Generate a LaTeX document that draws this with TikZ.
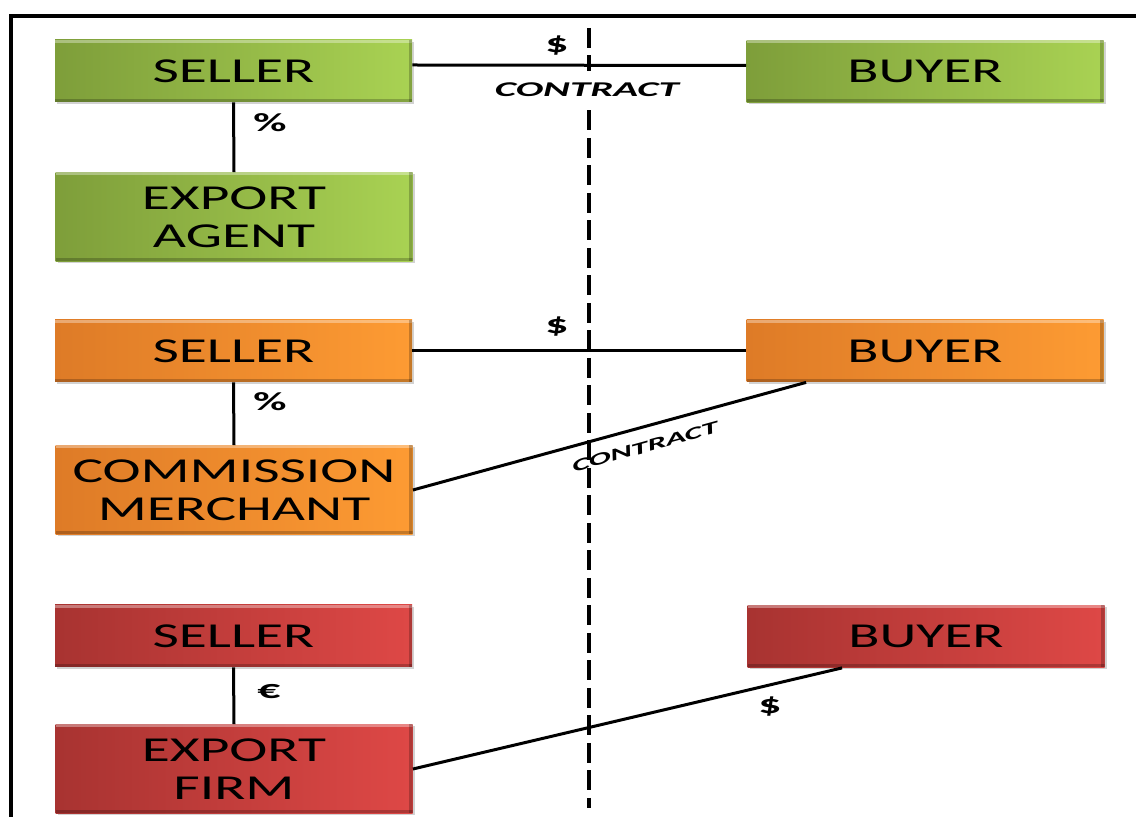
\documentclass[tikz,border=0pt]{standalone}
\usepackage{fontspec}
\usetikzlibrary{shadows,calc}
\newfontfamily\boxfont[FakeStretch=1.64]{Carlito}
\newfontfamily\tagfont[FakeStretch=1.75]{Carlito}
\newfontfamily\dealfont[FakeStretch=1.95]{Carlito}

\definecolor{gL}{HTML}{7E9E3A}
\definecolor{gR}{HTML}{A9D253}
\definecolor{oL}{HTML}{DE7B27}
\definecolor{oR}{HTML}{FD9B33}
\definecolor{rL}{HTML}{A83331}
\definecolor{rR}{HTML}{DE4846}

\tikzset{
  blk/.style={rectangle, minimum width=178.5pt, minimum height=31pt,
    inner sep=0pt, align=center, text=black,
    font=\boxfont\fontsize{17.5}{18.8}\selectfont,
    drop shadow={shadow xshift=1pt, shadow yshift=-1pt, opacity=.25, fill=black!70},
    path picture={
      \fill[white,opacity=.35] (path picture bounding box.north west)
        rectangle ([yshift=-1.5pt]path picture bounding box.north east);
      \fill[black,opacity=.22] ([xshift=-1.6pt]path picture bounding box.north east)
        rectangle (path picture bounding box.south east);
      \fill[black,opacity=.22] (path picture bounding box.south west)
        rectangle ([yshift=1.6pt]path picture bounding box.south east);
    }},
  tall/.style={minimum height=44.5pt},
  grn/.style={left color=gL, right color=gR},
  org/.style={left color=oL, right color=oR},
  red/.style={left color=rL, right color=rR},
  link/.style={line width=1.5pt, black},
  divider/.style={line width=2pt, black, dash pattern=on 10pt off 3.75pt},
  tag/.style={inner sep=0pt, font=\tagfont\bfseries\fontsize{13}{15}\selectfont},
  deal/.style={inner sep=0pt, font=\dealfont\bfseries\itshape\fontsize{10.5}{12}\selectfont},
}

\begin{document}
\begin{tikzpicture}[x=0.5pt,y=-0.5pt]
\useasboundingbox (0,0) rectangle (1136,817);
\fill[white] (0,0) rectangle (1136,817);

% outer frame (top and left edges)
\draw[line width=2pt] (10.5,817) -- (10.5,16) -- (1136,16);

% border between the two sides
\coordinate (dtop) at (589,28);
\coordinate (dbot) at (589,808);
\draw[divider] (dtop) -- (dbot);

% --- export agent ---
\node[blk,grn] (gS) at (233.5,71) {SELLER};
\node[blk,grn] (gB) at (925,71.5) {BUYER};
\node[blk,grn,tall] (gA) at (234,217) {EXPORT\\AGENT};

% --- commission merchant ---
\node[blk,org] (oS) at (233.5,351) {SELLER};
\node[blk,org] (oB) at (925,351) {BUYER};
\node[blk,org,tall] (oM) at (234,490) {COMMISSION\\MERCHANT};

% --- export firm ---
\node[blk,red] (rS) at (233.5,636) {SELLER};
\node[blk,red] (rB) at (926,636.5) {BUYER};
\node[blk,red,tall] (rF) at (234,769) {EXPORT\\FIRM};

% connectors
\draw[link] ([yshift=3pt]gS.east) -- ([yshift=3pt]gB.west);
\draw[link] (gS.south) -- (gA.north);
\draw[link] (oS.east) -- (oB.west);
\draw[link] (oS.south) -- (oM.north);
\draw[link] (oM.east) -- ([xshift=30pt]oB.south west);
\draw[link] (rS.south) -- (rF.north);
\draw[link] (rF.east) -- ([xshift=47.5pt]rB.south west);

% labels
\node[tag] (t1) at (557,46) {\$};
\node[deal, fill=white, minimum height=19pt, inner xsep=1pt] (c1) at (587,90) {CONTRACT};
\node[tag] (t2) at (270,123) {\%};
\node[tag] (t3) at (557,327) {\$};
\node[tag] (t4) at (270,402) {\%};
\node[deal, font=\dealfont\bfseries\itshape\fontsize{8.6}{10}\selectfont, rotate=15.3] (c2) at (645,447) {CONTRACT};
\node[tag] (t5) at (269,692) {€};
\node[tag] (t6) at (770,707) {\$};
\end{tikzpicture}
\end{document}
